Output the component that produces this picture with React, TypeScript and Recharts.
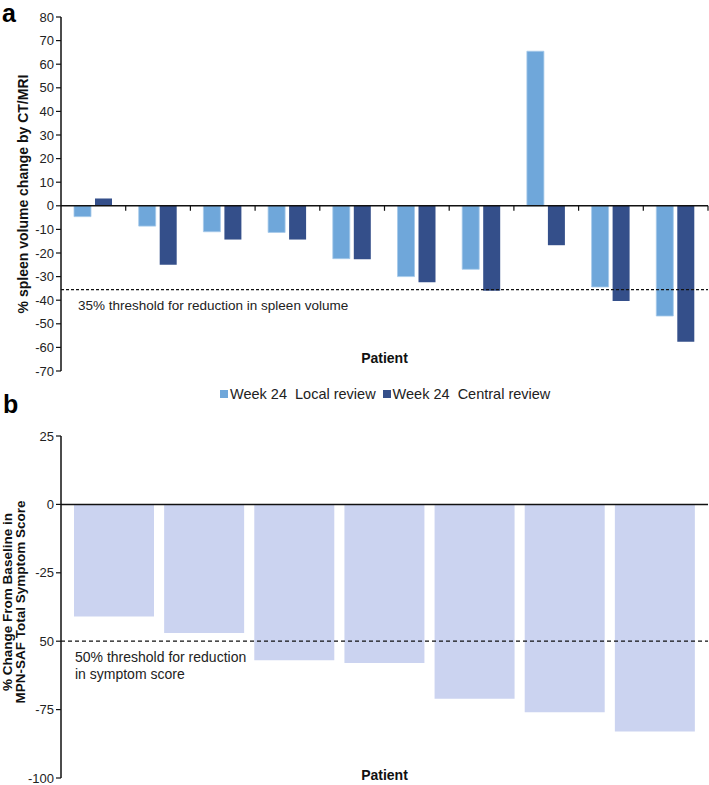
import React from 'react';
import {
  BarChart, Bar, XAxis, YAxis, ReferenceLine, Legend,
} from 'recharts';

const FONT = '"Liberation Sans", Arial, sans-serif';

// panel a: spleen volume change per patient
const patientsA = ['1', '2', '3', '4', '5', '6', '7', '8', '9', '10'];
const localReview = [-4.6, -8.6, -11, -11.3, -22.4, -30, -26.9, 65.5, -34.4, -46.7];
const centralReview = [3.1, -25, -14.3, -14.3, -22.7, -32.4, -36, -16.7, -40.3, -57.6];
const ticksA = [80, 70, 60, 50, 40, 30, 20, 10, 0, -10, -20, -30, -40, -50, -60, -70];
const thresholdA = -35.5;

// panel b: symptom score change per patient
const patientsB = ['1', '2', '3', '4', '5', '6', '7'];
const symptomChange = [-41, -47, -57, -58, -71, -76, -83];
const ticksB = [25, 0, -25, -50, -75, -100];
const tickLabelsB: Record<string, string> = { '25': '25', '0': '0', '-25': '-25', '-50': '50', '-75': '-75', '-100': '-100' };
const thresholdB = -50;

const LOCAL_NAME = 'Week 24  Local review';
const CENTRAL_NAME = 'Week 24  Central review';
const legendOrder = [LOCAL_NAME, CENTRAL_NAME];

const COLORS = {
  local: '#6fa7da',
  central: '#344f8a',
  symptom: '#cbd3f0',
  axis: '#111',
};

const dataA = patientsA.map((p, i) => ({ patient: p, local: localReview[i], central: centralReview[i] }));
const dataB = patientsB.map((p, i) => ({ patient: p, change: symptomChange[i] }));

/* eslint-disable @typescript-eslint/no-explicit-any */
// zero line for panel a, with ticks between patients
function ZeroLineTicks(props: any) {
  const { x1, x2, y1 } = props;
  const n = patientsA.length;
  const step = (x2 - x1) / n;
  return (
    <g>
      <line x1={x1} x2={x2} y1={y1} y2={y1} stroke={COLORS.axis} strokeWidth={1.5} />
      {Array.from({ length: n }, (_, i) => (
        <line key={i} x1={x1 + step * (i + 1)} x2={x1 + step * (i + 1)} y1={y1} y2={y1 + 5} stroke={COLORS.axis} strokeWidth={1.2} />
      ))}
    </g>
  );
}

// rotated axis title; bx = screen x of first line baseline
const yLabel = (lines: string[], bx: number, size: number, gap: number, shift = 0) => (props: any) => {
  const vb = props.viewBox || {};
  const cy = vb.y + vb.height / 2 + shift;
  return (
    <text transform={`rotate(-90, ${bx}, ${cy})`} x={bx} y={cy} textAnchor="middle" fontFamily={FONT} fontWeight="bold" fontSize={size} fill="#111">
      {lines.map((l, i) => (
        <tspan key={i} x={bx} dy={i === 0 ? 0 : gap}>{l}</tspan>
      ))}
    </text>
  );
};

const patientLabel = (dy: number) => (props: any) => {
  const vb = props.viewBox || {};
  return (
    <text x={vb.x + vb.width / 2} y={vb.y - dy} textAnchor="middle" fontFamily={FONT} fontWeight="bold" fontSize={14} fill="#111">
      Patient
    </text>
  );
};

const thresholdLabel = (lines: string[], dx: number, dy0: number, gap: number, size: number) => (props: any) => {
  const vb = props.viewBox || {};
  return (
    <text x={vb.x + dx} y={vb.y + dy0} fontFamily={FONT} fontSize={size} fill="#222">
      {lines.map((l, i) => (
        <tspan key={i} x={vb.x + dx} dy={i === 0 ? 0 : gap}>{l}</tspan>
      ))}
    </text>
  );
};

function LegendBox({ payload }: any) {
  const items = [...(payload || [])].sort((a: any, b: any) => legendOrder.indexOf(a.value) - legendOrder.indexOf(b.value));
  return (
    <div style={{ display: 'flex', alignItems: 'center', gap: 7, fontFamily: FONT, fontSize: 14.5, color: '#222', whiteSpace: 'pre' }}>
      {items.map((it: any) => (
        <span key={it.value} style={{ display: 'flex', alignItems: 'center' }}>
          <span style={{ display: 'inline-block', width: 8, height: 8, background: it.color, marginRight: 2 }} />
          {it.value}
        </span>
      ))}
    </div>
  );
}

const tickStyle = { fontSize: 13, fill: '#222', fontFamily: FONT };

export default function App() {
  return (
    <div style={{ position: 'absolute', left: 0, top: 0, width: 709, height: 785, background: '#fff', fontFamily: FONT }}>
      <div style={{ position: 'absolute', left: 2, top: -1, fontSize: 25, lineHeight: 'normal', fontWeight: 'bold' }}>a</div>
      <div style={{ position: 'absolute', left: 3, top: 390, fontSize: 25, lineHeight: 'normal', fontWeight: 'bold' }}>b</div>

      <div style={{ position: 'absolute', left: 0, top: 0 }}>
        <BarChart width={709} height={412} data={dataA} margin={{ top: 17, right: 1, left: 21, bottom: 10 }}
          barCategoryGap={13} barGap={4}>
          <XAxis dataKey="patient" height={1} tick={false} tickLine={false} axisLine={false}
            label={{ content: patientLabel(8) }} />
          <YAxis domain={[-70, 80]} ticks={ticksA} interval={0} width={40} tick={tickStyle}
            tickLine={{ stroke: COLORS.axis, strokeWidth: 1.2 }} axisLine={{ stroke: COLORS.axis, strokeWidth: 1.5 }} tickSize={5}
            label={{ content: yLabel(['% spleen volume change by CT/MRI'], 28, 14, 0) }} />
          <Legend height={30} content={<LegendBox />}
            wrapperStyle={{ top: 386, left: 220, width: 'auto', bottom: 'auto' }} />
          <Bar dataKey="local" name={LOCAL_NAME} fill={COLORS.local} stroke="#a6c9ea" strokeWidth={0.8} isAnimationActive={false} />
          <Bar dataKey="central" name={CENTRAL_NAME} fill={COLORS.central} isAnimationActive={false} />
          <ReferenceLine y={0} shape={ZeroLineTicks} />
          <ReferenceLine y={thresholdA} stroke="#111" strokeWidth={1.3} strokeDasharray="3 2"
            label={{ content: thresholdLabel(['35% threshold for reduction in spleen volume'], 17, 20, 0, 13.5) }} />
        </BarChart>
      </div>

      <div style={{ position: 'absolute', left: 0, top: 410 }}>
        <BarChart width={709} height={375} data={dataB} margin={{ top: 26, right: 1, left: 21, bottom: 6 }}
          barCategoryGap={5}>
          <XAxis dataKey="patient" height={1} tick={false} tickLine={false} axisLine={false} padding={{ left: 8, right: 8 }}
            label={{ content: patientLabel(-2) }} />
          <YAxis domain={[-100, 25]} ticks={ticksB} interval={0} width={40}
            tick={tickStyle} tickFormatter={(v: number) => tickLabelsB[String(v)] ?? String(v)}
            tickLine={{ stroke: COLORS.axis, strokeWidth: 1.2 }} axisLine={{ stroke: COLORS.axis, strokeWidth: 1.5 }} tickSize={5}
            label={{ content: yLabel(['% Change From Baseline in', 'MPN-SAF Total Symptom Score'], 11.5, 13.5, 13.5, -5) }} />
          <Bar dataKey="change" fill={COLORS.symptom} isAnimationActive={false} />
          <ReferenceLine y={0} stroke={COLORS.axis} strokeWidth={1.5} />
          <ReferenceLine y={thresholdB} stroke="#111" strokeWidth={1.3} strokeDasharray="4 3"
            label={{ content: thresholdLabel(['50% threshold for reduction', 'in symptom score'], 14, 21, 17, 14) }} />
        </BarChart>
      </div>
    </div>
  );
}
